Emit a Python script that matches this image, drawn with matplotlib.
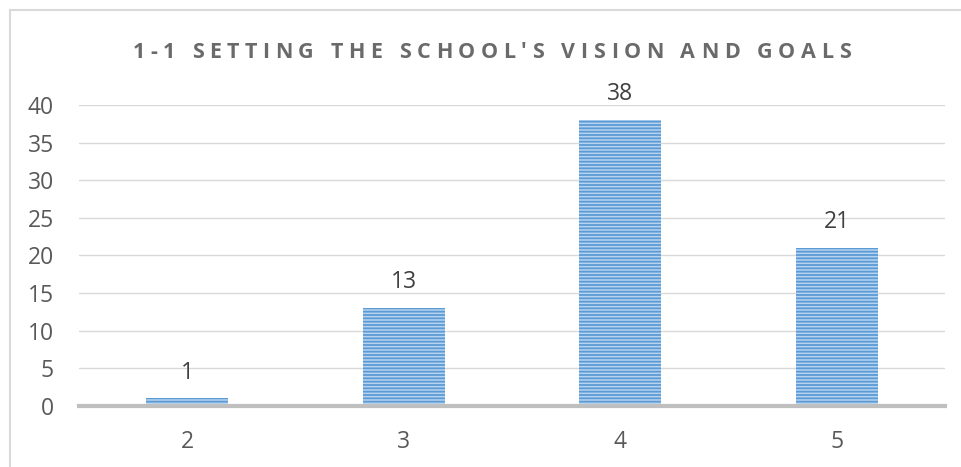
import matplotlib.pyplot as plt
from matplotlib.patches import Rectangle

# survey answers (rating -> number of responses)
categories = ['2', '3', '4', '5']
counts = [1, 13, 38, 21]
y_ticks = [0, 5, 10, 15, 20, 25, 30, 35, 40]
title = "1-1 SETTING THE SCHOOL'S VISION AND GOALS"

plt.rcParams['font.family'] = ['Open Sans', 'DejaVu Sans']
plt.rcParams['hatch.linewidth'] = 1.3

fig = plt.figure(figsize=(9.62, 4.67), dpi=100)

# light frame round the chart
fig.add_artist(Rectangle((10 / 962, -0.1), 1.2, 1.1 - 10 / 467,
                         transform=fig.transFigure, fill=False,
                         edgecolor='#D9D9D9', linewidth=1.5))

ax = fig.add_axes([0.0821, 0.1306, 0.9002, 0.6446])
x = list(range(len(categories)))
bars = ax.bar(x, counts, width=0.38, color='#B7D3F0', edgecolor='#5B9BD5',
              linewidth=0, hatch='-----', zorder=2)
ax.bar_label(bars, labels=[str(c) for c in counts], padding=10,
             fontsize=16.5, color='#404040')

ax.set_xlim(-0.5, len(categories) - 0.5)
ax.set_ylim(0, 40)
ax.set_xticks(x)
ax.set_xticklabels(categories)
ax.set_yticks(y_ticks)
ax.tick_params(axis='both', length=0, labelsize=16.5, labelcolor='#595959')
ax.tick_params(axis='y', pad=18)
ax.tick_params(axis='x', pad=17)
ax.grid(axis='y', color='#D9D9D9', linewidth=1, zorder=0)
ax.set_axisbelow(True)
for side in ['left', 'right', 'top']:
    ax.spines[side].set_visible(False)
ax.spines['bottom'].set_color('#BFBFBF')
ax.spines['bottom'].set_linewidth(3)
ax.spines['bottom'].set_zorder(3)

# spaced-out title, laid out one glyph at a time
renderer = fig.canvas.get_renderer()
title_kw = dict(fontsize=15.5, fontweight='bold', color='#6A6A6A')
probe = fig.text(0, 0, 'xx', **title_kw)
base_w = probe.get_window_extent(renderer).width
advances = []
for ch in title:
    probe.set_text('x' + ch + 'x')
    advances.append(probe.get_window_extent(renderer).width - base_w)
probe.remove()
tracking = 5.6
total = sum(advances) + tracking * (len(title) - 1)
cx = 0.511 * fig.bbox.width
cy = (1 - 52 / 467) * fig.bbox.height
pos = cx - total / 2
for ch, adv in zip(title, advances):
    if ch != ' ':
        fig.text(pos / fig.bbox.width, cy / fig.bbox.height, ch,
                 va='center', ha='left', **title_kw)
    pos += adv + tracking

fig.savefig('out.png', dpi=100)
